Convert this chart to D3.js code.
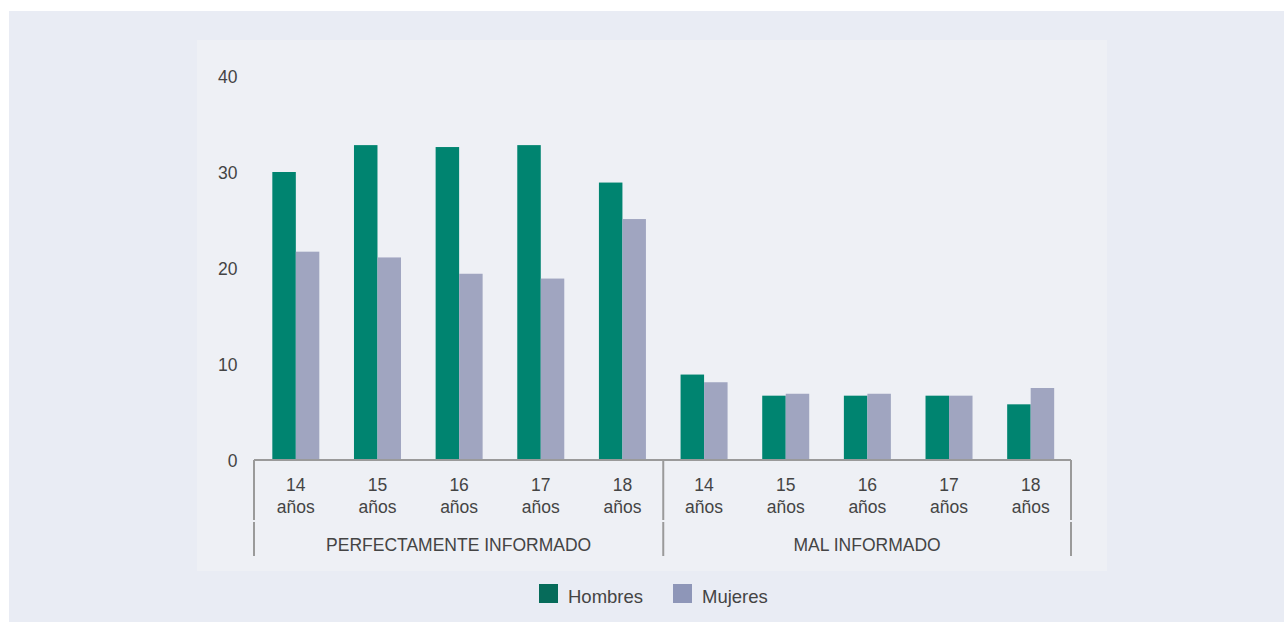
<!DOCTYPE html>
<html><head><meta charset="utf-8">
<script src="https://cdn.jsdelivr.net/npm/d3@7"></script>
<style>
html,body{margin:0;padding:0;background:#fff;}
svg text{font-family:"Liberation Sans",Arial,Helvetica,sans-serif;}
</style></head>
<body>
<svg id="chart" width="1284" height="622"></svg>
<script>
const groups = ["PERFECTAMENTE INFORMADO", "MAL INFORMADO"];
const ages = ["14", "15", "16", "17", "18"];
const seriesNames = ["Hombres", "Mujeres"];
const hombres = [30.0, 32.8, 32.6, 32.8, 28.9, 8.9, 6.7, 6.7, 6.7, 5.8];
const mujeres = [21.7, 21.1, 19.4, 18.9, 25.1, 8.1, 6.9, 6.9, 6.7, 7.5];
const yTicks = [0, 10, 20, 30, 40];

const svg = d3.select("#chart");
svg.append("rect").attr("x",9).attr("y",11).attr("width",1275).attr("height",611).attr("fill","#e9ecf4");
svg.append("rect").attr("x",197).attr("y",40).attr("width",910).attr("height",531).attr("fill","#eef0f5");

const cats = [];
groups.forEach((g,gi)=>ages.forEach((a,ai)=>cats.push({key:gi+"-"+a, group:g, age:a, i:gi*ages.length+ai})));

const x0 = d3.scaleBand().domain(cats.map(c=>c.key)).range([255,1071.5]).paddingInner(0).paddingOuter(0);
const bw = 23.5;
const x1 = d3.scaleBand().domain(seriesNames).range([0, bw*2]);
const y = d3.scaleLinear().domain([0,40]).range([460,76]);
const color = d3.scaleOrdinal().domain(seriesNames).range(["#008470","#a0a5c0"]);
const legendColor = d3.scaleOrdinal().domain(seriesNames).range(["#066b5a","#8e96b8"]);
const fs = 17.5;

// Y axis labels
const yAxis = d3.axisLeft(y).tickValues(yTicks).tickSize(0).tickPadding(0);
const ya = svg.append("g").attr("transform","translate(237.5,0)").call(yAxis);
ya.select(".domain").remove();
ya.selectAll("text").attr("font-size",fs).attr("fill","#444").attr("dy","0.35em");

// Bars
const data = [hombres, mujeres];
const gBars = svg.append("g");
cats.forEach(c=>{
  const cx = x0(c.key) + x0.bandwidth()/2 - bw;
  seriesNames.forEach((s,si)=>{
    const v = data[si][c.i];
    gBars.append("rect")
      .attr("x", cx + x1(s))
      .attr("y", y(v))
      .attr("width", x1.bandwidth())
      .attr("height", y(0)-y(v))
      .attr("fill", color(s));
  });
});

// X axis line
const ax = svg.append("g");
const xs = 254, xe2 = 1071;
ax.append("line").attr("x1",xs).attr("x2",xe2).attr("y1",y(0)).attr("y2",y(0)).attr("stroke","#9a9a9a").attr("stroke-width",2);
const groupEdges = [xs, x0(cats[5].key), xe2];
groupEdges.forEach(xe=>{
  ax.append("line").attr("x1",xe).attr("x2",xe).attr("y1",y(0)).attr("y2",520).attr("stroke","#9a9a9a").attr("stroke-width",2);
  ax.append("line").attr("x1",xe).attr("x2",xe).attr("y1",522).attr("y2",556).attr("stroke","#9a9a9a").attr("stroke-width",2);
});
// age labels
cats.forEach(c=>{
  const cx = x0(c.key)+x0.bandwidth()/2;
  const t = ax.append("text").attr("x",cx).attr("text-anchor","middle").attr("font-size",fs).attr("fill","#444");
  t.append("tspan").attr("x",cx).attr("y",491).text(c.age);
  t.append("tspan").attr("x",cx).attr("y",513).text("años");
});
// group labels
groups.forEach((g,gi)=>{
  const cx = (groupEdges[gi]+groupEdges[gi+1])/2;
  ax.append("text").attr("x",cx).attr("y",551).attr("text-anchor","middle").attr("font-size",fs).attr("fill","#444").text(g);
});

// Legend
const leg = svg.append("g");
const legX = [539, 673];
seriesNames.forEach((s,si)=>{
  leg.append("rect").attr("x",legX[si]).attr("y",584).attr("width",19).attr("height",19).attr("fill",legendColor(s));
  leg.append("text").attr("x",legX[si]+29).attr("y",603).attr("font-size",18.5).attr("fill","#444").text(s);
});
</script>
</body></html>
